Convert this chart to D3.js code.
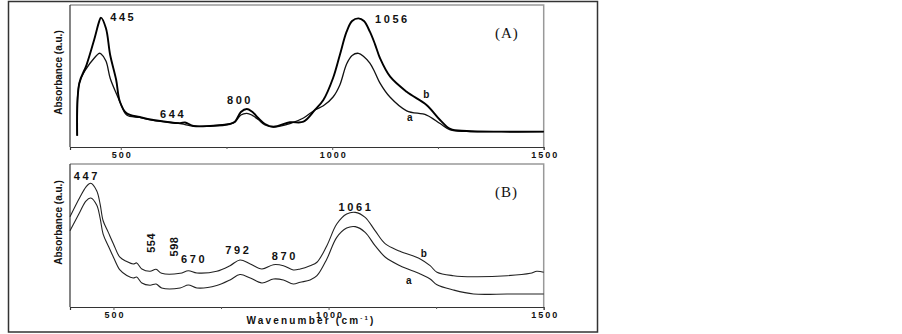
<!DOCTYPE html>
<html>
<head>
<meta charset="utf-8">
<script src="https://cdn.jsdelivr.net/npm/d3@7"></script>
<style>
  body { margin: 0; background: #fff; }
  svg { display: block; }
  .tick text { font-family: Arial, "Liberation Sans", sans-serif; font-weight: bold; font-size: 9px; letter-spacing: 2px; fill: #111; }
</style>
</head>
<body>
<script>
var w = 902;
var h = 334;

// wavenumber (cm-1) of the sampled points, panel A
var wnA = [397, 402, 419, 437, 449, 453, 465, 475, 489, 498, 514, 545, 577, 640, 652, 672, 711, 758, 770, 784, 798, 810, 825, 841, 861, 900, 932, 959, 979, 1002, 1018, 1034, 1047, 1062, 1075, 1089, 1101, 1113, 1137, 1176, 1223, 1255, 1279, 1318, 1400, 1500];
// absorbance (a.u.) curve a / curve b, panel A
var absA_a = [8, 44.9, 55.4, 62.5, 66, 65.6, 60.5, 48.4, 38, 31.9, 22.5, 20.8, 18.8, 16.5, 15.8, 14.6, 14.8, 16.2, 17.6, 22.5, 23.7, 22.5, 19.4, 15.5, 14.1, 16.5, 20.4, 26.1, 29, 35.2, 43.7, 58.5, 64.5, 66, 63.5, 59, 52.5, 45, 35, 25.5, 22.5, 16.5, 12, 11, 10.8, 10.8];
var absA_b = [8, 44.9, 57.7, 75.4, 88.5, 91.1, 83.6, 64.8, 47.5, 31.9, 23.7, 21.1, 19, 16.8, 17.3, 14.8, 14.8, 16.2, 17.8, 24.6, 26.8, 25, 20.4, 16.2, 14.3, 17.4, 17.8, 26.1, 33.1, 48.6, 64.8, 81.2, 88.7, 90.6, 88.7, 81.2, 72.5, 62.5, 49.5, 38.9, 29.6, 19, 12.7, 11.3, 10.8, 10.8];

// panel B
var wnB = [399, 422, 436, 447, 461, 469, 476, 488, 500, 515, 531, 546, 554, 566, 585, 599, 612, 655, 674, 694, 740, 771, 794, 818, 845, 872, 895, 918, 934, 957, 973, 996, 1019, 1042, 1062, 1085, 1108, 1132, 1166, 1213, 1236, 1252, 1290, 1337, 1415, 1469, 1484, 1500];
var absB_a = [53.4, 66.4, 74.1, 76.2, 71.3, 62.2, 51, 42.7, 34.8, 25.9, 22, 20.3, 21, 16.8, 15.2, 16.1, 13.3, 13.3, 15.4, 13.3, 15, 18.9, 22.7, 20.3, 16.8, 19.6, 18.9, 16.1, 17.3, 18.9, 21.9, 33.6, 48.7, 55.2, 56.2, 52.2, 42.9, 34.8, 28.9, 23.1, 19.6, 15.5, 11.9, 9.1, 9.1, 9.1, 9.1, 9.1];
var absB_b = [63.1, 76.7, 83.9, 86.5, 81.3, 72, 60.3, 52.2, 44.1, 34.8, 31.8, 30.1, 30.8, 26.6, 25, 26.4, 23.6, 23.6, 25.4, 23.8, 25, 28.9, 32.9, 30.1, 26.6, 29.6, 28.9, 25.9, 26.6, 28.9, 31.3, 42.9, 58, 65, 66.2, 62.7, 53.4, 44.1, 39, 33.6, 28.9, 24.3, 21.9, 21.2, 21.9, 23.6, 25, 24.3];

var xTicks = [500, 750, 1000, 1250, 1500];
var xTickLabels = ["500", "", "1000", "", "1500"];

// peak labels: text, wavenumber, absorbance, rotated?
var peaksA = [["445", 475, 88.7, 0], ["644", 593, 20.4, 0], ["800", 751, 30.3, 0], ["1056", 1101, 87.3, 0]];
var peaksB = [["447", 408, 88.8, 0], ["554", 597, 44.8, 1], ["598", 651, 42.3, 1], ["670", 657, 30.6, 0], ["792", 760, 37.1, 0], ["870", 868, 32.9, 0], ["1061", 1023, 67.3, 0]];
var curveTagsA = [["b", 1215, 34.5], ["a", 1177, 18.3]];
var curveTagsB = [["b", 1214, 34.8], ["a", 1180, 16.1]];

var svg = d3.select("body").append("svg").attr("width", w).attr("height", h);

// outer frame
svg.append("rect")
    .attr("x", 8.5).attr("y", 1.5).attr("width", 589).attr("height", 330.5)
    .attr("fill", "none").attr("stroke", "#333").attr("stroke-width", 1.5);

function panel(opt) {
    var x = d3.scaleLinear().domain([opt.x0, 1500]).range([70, 543.7]);
    var y = d3.scaleLinear().domain([0, 100]).range([opt.bottom, opt.top]);
    var g = svg.append("g");

    // top and right frame, grey
    g.append("path")
        .attr("d", "M70," + opt.top + "H543.7V" + opt.bottom)
        .attr("fill", "none").attr("stroke", "#999").attr("stroke-width", 1.5);
    // left axis
    g.append("line")
        .attr("x1", 70).attr("x2", 70).attr("y1", opt.top).attr("y2", opt.bottom)
        .attr("stroke", "#333").attr("stroke-width", 1.2);

    var ax = g.append("g")
        .attr("transform", "translate(0," + opt.bottom + ")")
        .call(d3.axisBottom(x).tickValues(xTicks)
            .tickFormat((d, i) => xTickLabels[i])
            .tickSize(3).tickPadding(2));
    ax.select(".domain").attr("stroke", "#333").attr("stroke-width", 1.2);
    ax.selectAll(".tick line").attr("stroke", "#555")
        .attr("y2", (d, i) => xTickLabels[i] ? 3 : 2);
    ax.selectAll(".tick text").attr("dx", "1px");

    var line = d3.line()
        .x(d => x(d[0]))
        .y(d => y(d[1]))
        .curve(d3.curveCatmullRom.alpha(0.5));

    opt.series.forEach(s => {
        g.append("path")
            .datum(opt.wn.map((v, i) => [v, s.vals[i]]))
            .attr("d", line)
            .attr("fill", "none")
            .attr("stroke", s.color)
            .attr("stroke-width", s.width)
            .attr("stroke-linejoin", "round");
    });

    g.selectAll("text.peak")
        .data(opt.peaks).enter()
        .append("text")
        .attr("class", "peak")
        .text(d => d[0])
        .attr("transform", d => d[3]
            ? "translate(" + x(d[1]) + "," + y(d[2]) + ") rotate(-90)"
            : "translate(" + x(d[1]) + "," + y(d[2]) + ")")
        .attr("text-anchor", d => d[3] ? "middle" : "start")
        .attr("font-family", "Arial, 'Liberation Sans', sans-serif")
        .attr("font-weight", "bold")
        .attr("font-size", "11px")
        .attr("letter-spacing", d => d[3] ? "0.5px" : "2.6px")
        .attr("fill", "#111");

    g.selectAll("text.tag")
        .data(opt.tags).enter()
        .append("text")
        .attr("class", "tag")
        .text(d => d[0])
        .attr("x", d => x(d[1]))
        .attr("y", d => y(d[2]))
        .attr("font-family", "Arial, 'Liberation Sans', sans-serif")
        .attr("font-weight", "bold")
        .attr("font-size", "10px")
        .attr("fill", "#111");

    g.append("text")
        .text(opt.name)
        .attr("x", 495)
        .attr("y", opt.top + 33)
        .attr("font-family", "'Liberation Serif', 'Times New Roman', serif")
        .attr("font-size", "15px")
        .attr("letter-spacing", "1px")
        .attr("fill", "#111");

    g.append("text")
        .text("Absorbance (a.u.)")
        .attr("transform", "translate(62," + opt.labelY + ") rotate(-90)")
        .attr("text-anchor", "middle")
        .attr("font-family", "Arial, 'Liberation Sans', sans-serif")
        .attr("font-weight", "bold")
        .attr("font-size", "10px")
        .attr("fill", "#111");
}

panel({
    x0: 380, top: 5, bottom: 147, labelY: 72.5, name: "(A)",
    wn: wnA,
    series: [{ vals: absA_a, color: "#111", width: 1.3 }, { vals: absA_b, color: "#000", width: 1.9 }],
    peaks: peaksA, tags: curveTagsA
});

panel({
    x0: 399, top: 164, bottom: 307, labelY: 222.5, name: "(B)",
    wn: wnB,
    series: [{ vals: absB_a, color: "#222", width: 1.1 }, { vals: absB_b, color: "#222", width: 1.1 }],
    peaks: peaksB, tags: curveTagsB
});

// x axis title
var xt = svg.append("text")
    .attr("x", 311).attr("y", 324)
    .attr("text-anchor", "middle")
    .attr("font-family", "Arial, 'Liberation Sans', sans-serif")
    .attr("font-weight", "bold")
    .attr("font-size", "10px")
    .attr("letter-spacing", "2.2px")
    .attr("fill", "#111");
xt.append("tspan").text("Wavenumber (cm");
xt.append("tspan").text("-1").attr("font-size", "6px").attr("dy", "-4");
xt.append("tspan").text(")").attr("dy", "4");
</script>
</body>
</html>
